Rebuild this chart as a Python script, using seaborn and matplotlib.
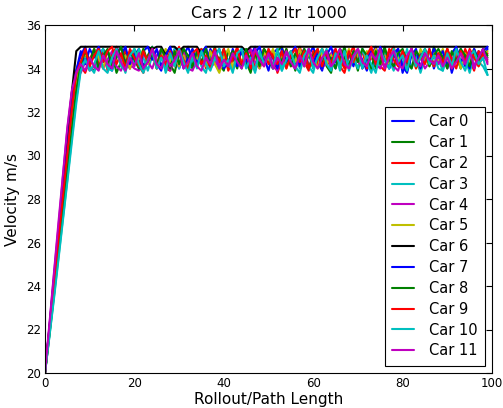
import pandas as pd
import matplotlib
matplotlib.use('Agg')
import matplotlib.pyplot as plt
import seaborn as sns

# Velocity per rollout step for each car
car_0 = [20.0, 22.1, 24.3, 26.4, 28.5, 30.5, 32.4, 33.9, 34.6, 35.0,
         34.2, 34.8, 34.0, 34.9, 34.3, 33.9, 34.7, 35.0, 34.4, 34.0,
         34.6, 34.9, 34.1, 34.5, 35.0, 34.2, 33.9, 34.8, 34.3, 34.9,
         34.0, 34.6, 35.0, 34.4, 34.1, 34.8, 34.2, 34.9, 34.5, 33.9,
         34.7, 34.0, 34.9, 34.3, 34.8, 34.1, 34.6, 35.0, 34.2, 34.5,
         33.9, 34.7, 34.9, 34.0, 34.4, 34.8, 34.2, 34.9, 34.1, 34.6,
         35.0, 34.3, 33.9, 34.8, 34.5, 34.0, 34.9, 34.2, 34.7, 34.1,
         34.8, 34.4, 33.9, 34.6, 35.0, 34.2, 34.8, 34.0, 34.5, 34.9,
         33.8, 34.4, 34.9, 34.1, 34.7, 34.3, 34.9, 34.0, 34.6, 34.2,
         34.8, 33.8, 34.5, 34.9, 34.1, 34.6, 34.0, 34.8, 34.4, 34.9]
car_1 = [20.0, 21.8, 23.6, 25.5, 27.3, 29.2, 31.0, 32.8, 34.1, 34.6,
         34.0, 33.9, 34.5, 34.9, 34.2, 34.7, 33.8, 34.3, 34.8, 34.1,
         34.9, 34.4, 33.9, 34.6, 35.0, 34.0, 34.5, 34.8, 34.2, 33.8,
         34.7, 34.9, 34.3, 34.0, 34.6, 34.9, 34.1, 34.4, 35.0, 34.2,
         33.9, 34.8, 34.5, 34.0, 34.9, 34.3, 33.8, 34.7, 34.1, 34.9,
         34.4, 34.0, 34.8, 35.0, 34.2, 34.6, 33.9, 34.9, 34.3, 34.7,
         34.0, 34.5, 34.9, 34.1, 33.8, 34.8, 34.4, 35.0, 34.2, 34.6,
         33.9, 34.9, 34.3, 34.7, 34.0, 34.5, 35.0, 34.1, 34.8, 34.2,
         34.6, 33.9, 34.9, 34.4, 34.0, 34.8, 34.2, 35.0, 34.5, 34.3,
         34.9, 34.1, 34.6, 34.0, 34.8, 34.4, 34.9, 34.2, 34.7, 34.5]
car_2 = [20.0, 22.0, 24.0, 26.0, 28.1, 30.1, 32.0, 33.6, 34.1, 33.8,
         34.4, 34.9, 34.2, 34.8, 33.9, 34.6, 35.0, 34.3, 34.9, 34.0,
         34.7, 34.1, 33.8, 34.5, 34.9, 34.2, 34.8, 34.0, 33.9, 34.6,
         35.0, 34.4, 34.1, 34.8, 34.3, 34.9, 34.0, 34.5, 34.9, 34.2,
         34.7, 33.9, 34.4, 35.0, 34.1, 34.6, 34.8, 34.0, 34.5, 34.9,
         34.2, 34.7, 33.8, 34.4, 34.9, 34.1, 34.6, 35.0, 34.3, 33.9,
         34.8, 34.2, 34.9, 34.5, 34.0, 34.7, 34.1, 33.8, 34.6, 35.0,
         34.3, 34.8, 34.0, 34.5, 34.9, 34.1, 33.9, 34.7, 35.0, 34.2,
         34.6, 34.0, 34.8, 34.3, 33.9, 34.9, 34.4, 34.1, 34.7, 34.3,
         34.9, 34.0, 34.6, 34.2, 34.9, 34.4, 33.9, 34.8, 34.5, 34.7]
car_3 = [20.0, 21.7, 23.5, 25.3, 27.1, 28.9, 30.8, 32.6, 34.0, 34.5,
         34.1, 33.8, 34.6, 34.9, 34.0, 33.9, 34.7, 34.4, 33.8, 34.8,
         34.2, 34.9, 34.5, 33.9, 34.6, 34.1, 34.8, 33.8, 34.4, 34.9,
         34.0, 34.6, 33.9, 34.3, 34.8, 34.1, 33.8, 34.7, 34.5, 34.0,
         34.9, 34.2, 33.9, 34.6, 34.1, 34.8, 34.4, 33.8, 34.7, 34.2,
         34.9, 34.0, 34.5, 33.9, 34.8, 34.3, 34.6, 34.0, 34.9, 34.1,
         33.8, 34.7, 34.4, 34.9, 34.0, 34.6, 33.9, 34.8, 34.2, 34.5,
         34.0, 34.9, 34.3, 33.8, 34.6, 34.1, 34.8, 34.4, 33.9, 34.7,
         34.2, 34.9, 34.0, 34.6, 33.8, 34.5, 34.8, 34.1, 34.4, 33.9,
         34.7, 34.2, 34.9, 34.0, 34.5, 33.8, 34.6, 34.3, 34.1, 33.7]
car_4 = [20.0, 22.2, 24.5, 26.7, 29.0, 31.2, 32.9, 33.9, 33.8, 34.3,
         33.9, 34.1, 34.5, 34.0, 34.4, 34.8, 34.1, 33.9, 34.6, 34.2,
         34.0, 33.9, 34.7, 34.3, 34.0, 34.6, 34.9, 34.2, 33.9, 34.5,
         34.1, 34.8, 34.0, 33.9, 34.4, 34.2, 34.6, 34.0, 34.3, 34.1,
         34.5, 34.2, 34.0, 34.4, 34.1, 34.6, 34.9, 34.3, 34.0, 34.5,
         34.8, 34.1, 33.9, 34.4, 34.7, 34.2, 34.0, 34.6, 34.9, 34.1,
         34.4, 34.8, 34.0, 34.3, 34.7, 34.9, 34.2, 34.5, 34.0, 34.8,
         34.3, 34.1, 34.6, 34.9, 34.2, 34.0, 34.5, 34.8, 34.1, 33.9,
         34.6, 34.4, 34.9, 34.1, 34.5, 34.0, 34.3, 34.7, 34.2, 34.6,
         34.0, 34.4, 34.8, 34.1, 34.3, 34.7, 34.0, 34.5, 34.9, 34.4]
car_5 = [20.0, 21.9, 23.8, 25.7, 27.6, 29.5, 31.4, 33.2, 34.3, 34.7,
         34.2, 34.9, 34.5, 34.0, 34.8, 34.3, 34.9, 34.1, 34.6, 34.0,
         34.8, 34.4, 34.9, 34.2, 34.7, 34.0, 34.5, 34.9, 34.3, 34.8,
         34.1, 34.6, 34.0, 34.9, 34.4, 34.7, 34.1, 34.8, 34.2, 33.8,
         34.5, 34.9, 34.0, 34.7, 34.3, 34.9, 34.1, 34.6, 34.0, 34.8,
         34.4, 34.9, 34.2, 34.6, 34.0, 34.8, 34.3, 34.9, 34.1, 34.7,
         34.5, 34.0, 34.9, 34.2, 34.6, 34.8, 34.1, 34.4, 34.9, 34.3,
         34.7, 34.0, 34.8, 34.5, 34.9, 34.2, 34.6, 34.1, 34.9, 34.4,
         34.8, 34.3, 34.7, 34.0, 34.9, 34.5, 34.1, 34.8, 34.4, 34.9,
         34.2, 34.6, 34.9, 34.0, 34.7, 34.3, 34.9, 34.1, 34.6, 34.8]
car_6 = [20.0, 22.1, 24.3, 26.5, 28.6, 30.8, 32.9, 34.8, 35.0, 35.0,
         35.0, 35.0, 35.0, 35.0, 35.0, 35.0, 35.0, 35.0, 35.0, 35.0,
         35.0, 35.0, 35.0, 35.0, 34.9, 35.0, 35.0, 34.6, 35.0, 35.0,
         34.8, 35.0, 35.0, 35.0, 35.0, 34.7, 35.0, 35.0, 35.0, 35.0,
         35.0, 35.0, 35.0, 35.0, 35.0, 34.8, 35.0, 35.0, 35.0, 35.0,
         35.0, 35.0, 35.0, 35.0, 35.0, 35.0, 35.0, 35.0, 35.0, 35.0,
         35.0, 35.0, 35.0, 35.0, 35.0, 35.0, 35.0, 35.0, 35.0, 35.0,
         35.0, 35.0, 35.0, 35.0, 35.0, 35.0, 35.0, 35.0, 35.0, 35.0,
         35.0, 35.0, 35.0, 35.0, 35.0, 35.0, 35.0, 35.0, 35.0, 35.0,
         35.0, 35.0, 35.0, 35.0, 35.0, 35.0, 35.0, 35.0, 35.0, 35.0]
car_7 = [20.0, 22.0, 24.1, 26.1, 28.2, 30.2, 32.2, 33.9, 34.8, 34.2,
         34.9, 34.5, 35.0, 34.3, 34.8, 34.1, 34.9, 34.6, 35.0, 34.2,
         34.7, 34.0, 34.8, 35.0, 34.4, 34.9, 34.1, 34.6, 35.0, 34.3,
         34.8, 34.0, 34.5, 34.9, 34.2, 34.7, 35.0, 34.1, 34.6, 34.9,
         34.0, 34.3, 34.8, 34.1, 34.9, 34.4, 34.0, 34.7, 35.0, 34.2,
         34.8, 34.5, 34.0, 34.9, 34.3, 34.7, 35.0, 34.1, 34.5, 34.9,
         34.2, 34.8, 34.0, 34.6, 35.0, 34.3, 34.9, 34.1, 34.7, 34.4,
         34.9, 34.0, 34.5, 34.8, 34.2, 35.0, 34.4, 34.0, 34.7, 34.9,
         34.1, 33.8, 34.6, 34.9, 34.0, 34.8, 34.3, 34.9, 34.5, 34.8,
         34.1, 34.7, 35.0, 34.3, 34.6, 34.0, 34.9, 34.4, 34.8, 35.0]
car_8 = [20.0, 21.8, 23.7, 25.6, 27.5, 29.3, 31.2, 33.0, 34.2, 34.8,
         34.3, 34.9, 34.0, 34.6, 34.9, 34.1, 34.5, 35.0, 34.2, 34.8,
         34.4, 34.0, 34.9, 34.3, 34.7, 34.1, 34.9, 34.5, 34.0, 34.8,
         34.2, 34.9, 34.6, 34.1, 34.8, 34.3, 34.9, 34.0, 34.7, 34.4,
         34.9, 34.2, 34.8, 34.5, 34.0, 34.9, 34.3, 34.7, 34.1, 34.9,
         34.6, 34.0, 34.8, 34.3, 34.9, 34.1, 34.7, 34.4, 34.9, 34.0,
         34.6, 34.9, 34.2, 34.8, 34.4, 34.0, 34.9, 34.5, 34.1, 34.8,
         34.3, 34.9, 34.6, 34.0, 34.8, 34.2, 34.9, 34.4, 34.1, 34.7,
         34.9, 34.3, 34.0, 34.8, 34.5, 34.9, 34.1, 34.6, 34.9, 34.5,
         34.0, 34.8, 34.3, 34.9, 34.6, 34.1, 34.8, 34.4, 34.9, 34.6]
car_9 = [20.0, 22.0, 24.0, 26.1, 28.1, 30.1, 32.1, 33.8, 34.3, 34.9,
         34.1, 34.6, 34.9, 34.3, 34.8, 35.0, 34.2, 34.7, 34.0, 34.9,
         34.5, 34.1, 34.8, 34.3, 34.9, 34.0, 34.6, 34.2, 34.8, 34.1,
         34.9, 34.4, 34.0, 34.7, 34.9, 34.2, 34.6, 34.0, 34.8, 34.3,
         34.9, 34.1, 34.5, 34.9, 34.2, 34.7, 34.0, 34.8, 34.4, 34.1,
         34.9, 34.5, 34.2, 34.8, 34.0, 34.6, 34.9, 34.3, 34.8, 34.0,
         34.5, 34.9, 34.1, 34.7, 34.2, 34.9, 34.4, 34.0, 34.8, 34.3,
         34.9, 34.1, 34.6, 35.0, 34.2, 34.7, 34.0, 34.9, 34.4, 34.1,
         34.8, 34.3, 34.9, 34.0, 34.6, 34.2, 34.9, 34.1, 34.7, 34.2,
         34.9, 34.4, 34.0, 34.8, 34.3, 34.9, 34.5, 34.1, 34.7, 34.3]
car_10 = [20.0, 21.7, 23.4, 25.2, 27.0, 28.8, 30.6, 32.4, 33.9, 34.4,
          33.9, 34.2, 34.8, 34.0, 33.8, 34.5, 34.9, 34.1, 33.9, 34.6,
          34.9, 34.2, 33.8, 34.4, 34.8, 34.0, 34.5, 33.9, 34.7, 34.1,
          34.9, 34.3, 33.8, 34.6, 34.0, 34.8, 34.2, 33.9, 34.5, 34.9,
          34.1, 34.4, 33.8, 34.7, 34.9, 34.0, 34.5, 33.9, 34.8, 34.2,
          34.6, 34.0, 34.9, 33.9, 34.4, 34.8, 34.1, 33.8, 34.6, 34.9,
          34.0, 34.5, 34.9, 34.2, 33.9, 34.7, 34.1, 34.8, 33.9, 34.5,
          34.9, 34.0, 34.6, 34.2, 33.8, 34.8, 34.4, 34.0, 34.9, 34.3,
          34.6, 33.9, 34.8, 34.1, 34.5, 34.9, 34.2, 34.6, 34.0, 33.9,
          34.7, 34.1, 34.9, 34.3, 33.9, 34.6, 34.8, 34.2, 34.5, 33.7]
car_11 = [20.0, 22.3, 24.6, 26.9, 29.1, 31.3, 33.0, 33.8, 34.2, 33.9,
          34.5, 34.1, 33.9, 34.6, 34.2, 34.0, 34.8, 34.3, 33.9, 34.5,
          34.1, 34.7, 34.0, 34.3, 34.9, 34.2, 34.0, 34.6, 34.1, 34.4,
          34.8, 34.0, 34.3, 34.7, 34.1, 33.9, 34.5, 34.2, 34.8, 34.0,
          34.4, 34.1, 34.7, 34.3, 34.0, 34.6, 34.2, 34.9, 34.4, 34.1,
          34.7, 34.0, 34.5, 34.2, 34.8, 34.3, 34.0, 34.6, 34.1, 34.9,
          34.3, 34.0, 34.5, 34.8, 34.1, 34.4, 34.9, 34.2, 34.0, 34.6,
          34.9, 34.3, 34.1, 34.7, 34.4, 34.9, 34.0, 34.5, 34.8, 34.2,
          34.0, 34.6, 34.9, 34.3, 34.1, 34.7, 34.4, 34.2, 34.6, 34.1,
          34.5, 34.0, 34.3, 34.7, 34.2, 34.8, 34.1, 34.5, 34.9, 34.2]

cars = [car_0, car_1, car_2, car_3, car_4, car_5,
        car_6, car_7, car_8, car_9, car_10, car_11]
car_names = ['Car %d' % i for i in range(len(cars))]

# old matplotlib "b g r c m y k" cycle
classic = ['#0000ff', '#008000', '#ff0000', '#00bfbf', '#bf00bf', '#bfbf00', '#000000']
palette = {name: classic[i % len(classic)] for i, name in enumerate(car_names)}

# long-form table for seaborn
rows = []
for name, vals in zip(car_names, cars):
    for step, v in enumerate(vals):
        rows.append({'step': step, 'velocity': v, 'car': name})
df = pd.DataFrame(rows)

sns.set_style('white')
plt.rcParams['font.family'] = ['DejaVu Sans']
plt.rcParams['xtick.direction'] = 'in'
plt.rcParams['ytick.direction'] = 'in'
plt.rcParams['xtick.top'] = True
plt.rcParams['ytick.right'] = True
for key in ['text.color', 'axes.labelcolor', 'xtick.color', 'ytick.color']:
    plt.rcParams[key] = 'black'

fig = plt.figure(figsize=(5.03, 4.08), dpi=100)
ax = fig.add_axes([45 / 503, 1 - 373 / 408, 447 / 503, 348 / 408])

sns.lineplot(data=df, x='step', y='velocity', hue='car', hue_order=car_names,
             palette=palette, linewidth=1.5, ax=ax)

ax.set_xlim(0, 100)
ax.set_ylim(20, 36)
ax.set_xticks(range(0, 101, 20))
ax.set_yticks(range(20, 37, 2))
ax.tick_params(labelsize=8.5, length=4, width=0.8, color='black', pad=3)
for s in ax.spines.values():
    s.set_color('black')
    s.set_linewidth(0.8)

ax.set_title('Cars 2 / 12 Itr 1000', fontsize=11.5, pad=5)
ax.set_xlabel('Rollout/Path Length', fontsize=11, labelpad=1)
ax.set_ylabel('Velocity m/s', fontsize=11, labelpad=4)

handles, labels = ax.get_legend_handles_labels()
leg = ax.legend(handles, labels, loc='lower right', fontsize=10.5, fancybox=False,
                framealpha=1, edgecolor='black', handlelength=1.5, handletextpad=1.0,
                labelspacing=0.4, borderpad=0.5)
leg.get_frame().set_linewidth(0.8)

fig.savefig('out.png', dpi=100)
plt.close(fig)
